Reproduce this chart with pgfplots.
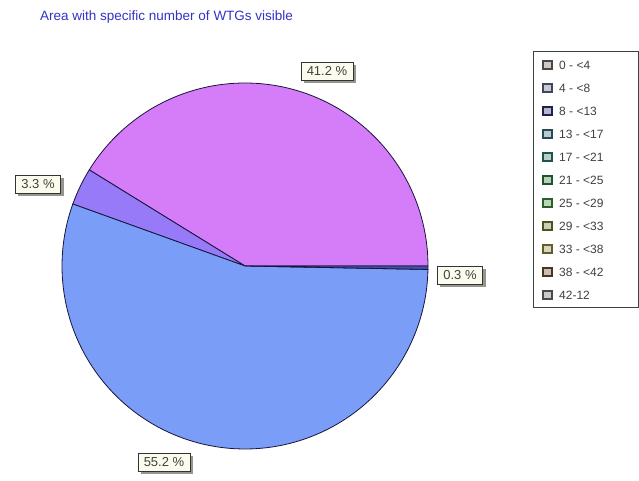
\documentclass[border=0pt]{standalone}
\usepackage{pgfplots}
\pgfplotsset{compat=1.18}
\usepackage{fontspec}
\setmainfont{Liberation Sans}
\usetikzlibrary{shadows}

\definecolor{sliceA}{RGB}{213,125,248}
\definecolor{sliceB}{RGB}{150,122,248}
\definecolor{sliceC}{RGB}{122,158,248}
\definecolor{sliceD}{RGB}{70,80,170}
\definecolor{edge}{RGB}{25,20,60}
\definecolor{titleblue}{RGB}{50,50,200}
\definecolor{labelfill}{RGB}{252,252,238}
\definecolor{shadowc}{RGB}{150,150,140}
\definecolor{lgA}{RGB}{110,100,95}
\definecolor{lgB}{RGB}{95,100,130}
\definecolor{lgC}{RGB}{45,45,115}
\definecolor{lgD}{RGB}{60,105,125}
\definecolor{lgE}{RGB}{45,120,105}
\definecolor{lgF}{RGB}{45,120,60}
\definecolor{lgG}{RGB}{60,135,60}
\definecolor{lgH}{RGB}{105,120,45}
\definecolor{lgI}{RGB}{140,135,60}
\definecolor{lgJ}{RGB}{105,75,45}
\definecolor{lgK}{RGB}{105,105,105}

\tikzset{lbl/.style={draw=black!80, fill=labelfill, text=black!75,
    font=\fontsize{13}{15}\selectfont, inner xsep=6pt, inner ysep=4.5pt,
    drop shadow={shadow xshift=3pt, shadow yshift=-3pt, fill=shadowc, opacity=1}}}

\begin{document}
\begin{tikzpicture}[x=1pt,y=1pt]
\path[use as bounding box] (0,0) rectangle (639,481);
\begin{axis}[
  at={(0,0)}, anchor=south west,
  width=639pt, height=481pt, scale only axis,
  xmin=0, xmax=639, ymin=0, ymax=481,
  hide axis, clip=false,
]
% pie: centre (245,215), radius 183; shares 41.2, 3.3, 55.2, 0.3 %
\addplot[fill=sliceA, draw=edge, line width=0.8pt, domain=0:148.32, samples=90, variable=\t]
  ({245+183*cos(\t)},{215+183*sin(\t)}) -- (axis cs:245,215) -- cycle;
\addplot[fill=sliceB, draw=edge, line width=0.8pt, domain=148.32:160.2, samples=10, variable=\t]
  ({245+183*cos(\t)},{215+183*sin(\t)}) -- (axis cs:245,215) -- cycle;
\addplot[fill=sliceC, draw=edge, line width=0.8pt, domain=160.2:358.92, samples=120, variable=\t]
  ({245+183*cos(\t)},{215+183*sin(\t)}) -- (axis cs:245,215) -- cycle;
\addplot[fill=sliceD, draw=edge, line width=0.8pt, domain=358.92:360, samples=3, variable=\t]
  ({245+183*cos(\t)},{215+183*sin(\t)}) -- (axis cs:245,215) -- cycle;
\end{axis}

\node[lbl] at (327,410) {41.2 \%};
\node[lbl] at (38,297) {3.3 \%};
\node[lbl] at (460,206) {0.3 \%};
\node[lbl] at (164,19) {55.2 \%};

% title
\node[anchor=west, text=titleblue, font=\fontsize{13.5}{16}\selectfont, inner sep=0pt]
  at (40,464) {Area with specific number of WTGs visible};

% legend
\draw[draw=black!75, line width=1pt, fill=white] (533,429) rectangle (638,173);
\foreach \lab/\col [count=\i from 0] in {0 - <4/lgA, 4 - <8/lgB, 8 - <13/lgC, 13 - <17/lgD,
   17 - <21/lgE, 21 - <25/lgF, 25 - <29/lgG, 29 - <33/lgH, 33 - <38/lgI, 38 - <42/lgJ, 42-12/lgK} {
  \pgfmathsetmacro{\yy}{416-23.0*\i}
  \draw[draw=\col!70!black, line width=1.8pt, fill=\col!35!white]
     (543,\yy-4) rectangle (552,\yy+4);
  \node[anchor=west, text=black!75, font=\fontsize{12}{14}\selectfont, inner sep=0pt]
     at (559,\yy) {\lab};
}
\end{tikzpicture}
\end{document}
